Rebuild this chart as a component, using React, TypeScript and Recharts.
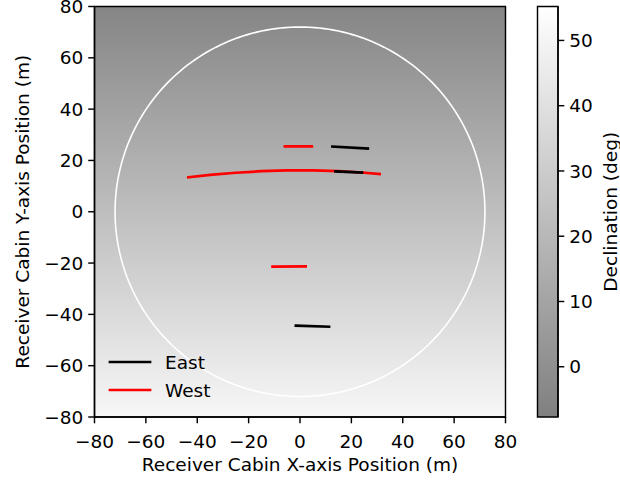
import React from 'react';
import { ScatterChart, Scatter, XAxis, YAxis, ReferenceArea, Legend } from 'recharts';

const X_TICKS = [-80, -60, -40, -20, 0, 20, 40, 60, 80];
const Y_TICKS = [-80, -60, -40, -20, 0, 20, 40, 60, 80];
const CB_TICKS = [0, 10, 20, 30, 40, 50];
const AXIS_DOMAIN: [number, number] = [-80, 80];
const CB_DOMAIN: [number, number] = [-7.7, 55.2];
const CIRCLE_RADIUS = 72;

// East (black) tracks
const EAST_1 = [{ x: 12.6, y: 25.4 }, { x: 26.4, y: 24.6 }];
const EAST_2 = [{ x: 13.8, y: 15.7 }, { x: 24.1, y: 15.3 }];
const EAST_3 = [{ x: -1.6, y: -44.4 }, { x: 11.3, y: -44.8 }];

// West (red) tracks
const WEST_1 = [
  { x: -43.5, y: 13.4 }, { x: -35, y: 14.4 }, { x: -25, y: 15.2 }, { x: -15, y: 15.8 },
  { x: -5, y: 16.1 }, { x: 5, y: 16.1 }, { x: 15, y: 15.8 }, { x: 24, y: 15.3 }, { x: 31, y: 14.7 },
];
const WEST_2 = [{ x: -5.9, y: 25.5 }, { x: 4.6, y: 25.5 }];
const WEST_3 = [{ x: -10.7, y: -21.4 }, { x: 2.2, y: -21.3 }];

const EAST_TRACKS = [EAST_1, EAST_2, EAST_3];
const WEST_TRACKS = [WEST_1, WEST_2, WEST_3];

const LEGEND = [
  { name: 'East', color: '#000000' },
  { name: 'West', color: '#ff0000' },
];

const CIRCLE = Array.from({ length: 241 }, (_, i) => {
  const t = (i / 240) * 2 * Math.PI;
  return { x: CIRCLE_RADIUS * Math.cos(t), y: CIRCLE_RADIUS * Math.sin(t) };
});

const CB_POINTS = [{ u: 0.5, v: CB_DOMAIN[0] }, { u: 0.5, v: CB_DOMAIN[1] }];

const FONT = 'DejaVu Sans';
const FS = 18.5;
const AX_W = 1.44;
const TICK_LEN = 6.3;
const fmt = (v: number) => String(v).replace('-', '\u2212');
const noShape = () => <g />;
const tickStyle = { fill: '#000', fontSize: FS, fontFamily: FONT };

const LegendContent = () => (
  <svg width={140} height={60} style={{ overflow: 'visible', display: 'block' }}>
    {LEGEND.map((e, i) => (
      <g key={e.name}>
        <line x1={5} x2={45} y1={14 + 28 * i} y2={14 + 28 * i} stroke={e.color} strokeWidth={2.7} strokeLinecap="square" />
        <text x={60} y={14 + 28 * i} dy="0.36em" fontSize={FS} fontFamily={FONT} fill="#000">{e.name}</text>
      </g>
    ))}
  </svg>
);

export default function App() {
  return (
    <div style={{ position: 'absolute', left: 0, top: 0, width: 620, height: 481, background: '#fff' }}>
      <div style={{ position: 'absolute', left: 0, top: 0 }}>
        <ScatterChart width={620} height={481} margin={{ top: 6.5, right: 114.5, bottom: 0, left: 0 }}>
          <defs>
            <linearGradient id="bgGrad" x1="0" y1="0" x2="0" y2="1">
              <stop offset="0%" stopColor="#858585" />
              <stop offset="100%" stopColor="#f7f7f7" />
            </linearGradient>
          </defs>
          <XAxis
            type="number"
            dataKey="x"
            domain={AXIS_DOMAIN}
            ticks={X_TICKS}
            interval={0}
            allowDataOverflow
            height={64}
            tickSize={TICK_LEN}
            tickMargin={11.5}
            tick={tickStyle}
            tickFormatter={fmt}
            stroke="#000"
            tickLine={{ stroke: '#000', strokeWidth: AX_W }}
            axisLine={{ stroke: '#000', strokeWidth: AX_W }}
            label={{ value: 'Receiver Cabin X-axis Position (m)', position: 'insideBottom', offset: 10.5, fill: '#000', fontSize: FS, fontFamily: FONT }}
          />
          <YAxis
            type="number"
            dataKey="y"
            domain={AXIS_DOMAIN}
            ticks={Y_TICKS}
            interval={0}
            allowDataOverflow
            width={94.5}
            tickSize={TICK_LEN}
            tickMargin={5}
            tick={tickStyle}
            tickFormatter={fmt}
            stroke="#000"
            tickLine={{ stroke: '#000', strokeWidth: AX_W }}
            axisLine={{ stroke: '#000', strokeWidth: AX_W }}
            label={{ value: 'Receiver Cabin Y-axis Position (m)', angle: -90, position: 'insideLeft', offset: 22, style: { textAnchor: 'middle' }, fill: '#000', fontSize: FS, fontFamily: FONT }}
          />
          <ReferenceArea x1={AXIS_DOMAIN[0]} x2={AXIS_DOMAIN[1]} y1={AXIS_DOMAIN[0]} y2={AXIS_DOMAIN[1]} fill="url(#bgGrad)" fillOpacity={1} stroke="#000" strokeWidth={AX_W} />
          <Scatter data={CIRCLE} line={{ stroke: '#ffffff', strokeWidth: 1.6 }} lineType="joint" shape={noShape} isAnimationActive={false} legendType="none" />
          {WEST_TRACKS.map((d, i) => (
            <Scatter key={'w' + i} data={d} line={{ stroke: '#ff0000', strokeWidth: 2.7, strokeLinecap: 'square' }} lineType="joint" shape={noShape} isAnimationActive={false} />
          ))}
          {EAST_TRACKS.map((d, i) => (
            <Scatter key={'e' + i} data={d} line={{ stroke: '#000000', strokeWidth: 2.7, strokeLinecap: 'square' }} lineType="joint" shape={noShape} isAnimationActive={false} />
          ))}
          <Legend layout="vertical" align="center" verticalAlign="middle" content={LegendContent} wrapperStyle={{ left: 105, top: 348, width: 140, height: 60 }} />
        </ScatterChart>
      </div>
      <div style={{ position: 'absolute', left: 530, top: 0 }}>
        <ScatterChart width={90} height={481} margin={{ top: 6.5, right: 0, bottom: 64, left: 7.5 }}>
          <defs>
            <linearGradient id="cbGrad" x1="0" y1="0" x2="0" y2="1">
              <stop offset="0%" stopColor="#ffffff" />
              <stop offset="100%" stopColor="#808080" />
            </linearGradient>
          </defs>
          <XAxis type="number" dataKey="u" domain={[0, 1]} hide />
          <YAxis
            type="number"
            dataKey="v"
            orientation="right"
            domain={CB_DOMAIN}
            ticks={CB_TICKS}
            interval={0}
            allowDataOverflow
            width={62}
            tickSize={TICK_LEN}
            tickMargin={5}
            tick={tickStyle}
            tickFormatter={fmt}
            stroke="#000"
            tickLine={{ stroke: '#000', strokeWidth: AX_W }}
            axisLine={{ stroke: '#000', strokeWidth: AX_W }}
            label={{ value: 'Declination (deg)', angle: -90, position: 'insideRight', offset: 10, style: { textAnchor: 'middle' }, fill: '#000', fontSize: FS, fontFamily: FONT }}
          />
          <ReferenceArea x1={0} x2={1} y1={CB_DOMAIN[0]} y2={CB_DOMAIN[1]} fill="url(#cbGrad)" fillOpacity={1} stroke="#000" strokeWidth={AX_W} />
          <Scatter data={CB_POINTS} shape={noShape} isAnimationActive={false} legendType="none" />
        </ScatterChart>
      </div>
    </div>
  );
}
